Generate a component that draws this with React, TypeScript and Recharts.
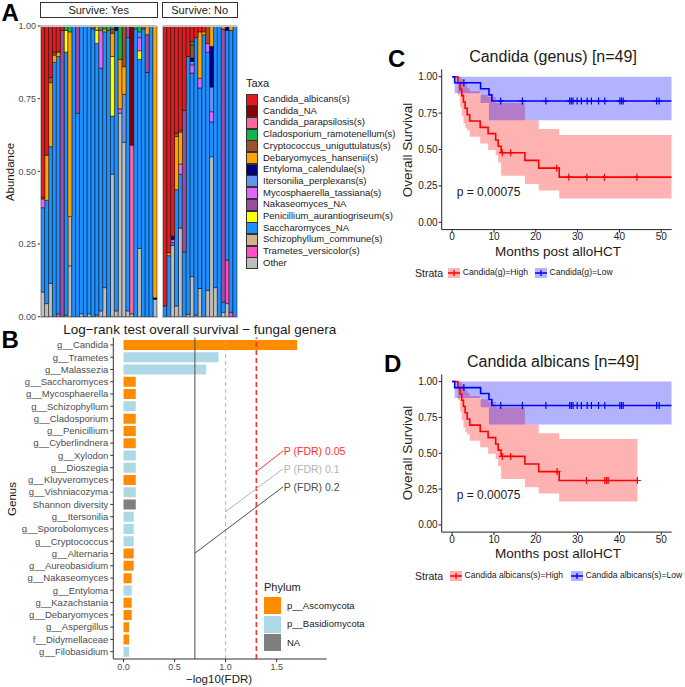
import React from "react";
import {
  BarChart,
  Bar,
  Cell,
  XAxis,
  YAxis,
  ComposedChart,
  Line,
  Area,
  Scatter,
  ReferenceLine,
  ReferenceDot,
} from "recharts";

const FONT = '"Liberation Sans", Arial, Helvetica, sans-serif';

// ---------- Panel A: fungal abundance per patient ----------
const taxa = [
  "Candida_albicans(s)",
  "Candida_NA",
  "Candida_parapsilosis(s)",
  "Cladosporium_ramotenellum(s)",
  "Cryptococcus_uniguttulatus(s)",
  "Debaryomyces_hansenii(s)",
  "Entyloma_calendulae(s)",
  "Itersonilia_perplexans(s)",
  "Mycosphaerella_tassiana(s)",
  "Nakaseomyces_NA",
  "Penicillium_aurantiogriseum(s)",
  "Saccharomyces_NA",
  "Schizophyllum_commune(s)",
  "Trametes_versicolor(s)",
  "Other",
];
const taxaColors = [
  "#e41a1c", "#8b0000", "#ff6699", "#14b24c", "#a0522d", "#ffa500", "#000080",
  "#6495ed", "#e066ff", "#984ea3", "#ffff00", "#1e90ff", "#d2b48c", "#ff4fc4", "#bebebe",
];
const facets = ["Survive: Yes", "Survive: No"];
const nSurvived = 30; // first 30 samples survived, last 19 did not

// one value per sample (30 survivors, then 19 non-survivors)
const candidaAlbicans = [
  0.59, 0.445, 0.177, 0.09, 0.09, 0.015, 0, 0, 0, 0,
  0, 0, 0, 0, 0, 0, 0, 0, 0, 0,
  0, 0, 0, 0, 0, 0, 0, 0, 0, 0,
  0.963, 0.78, 0.723, 0.368, 0.36, 0.29, 0.105, 0.054, 0.04, 0.02,
  0.02, 0, 0, 0, 0, 0, 0, 0, 0,
];
const candidaNA = [
  0, 0, 0, 0, 0, 0, 0, 0, 0, 0,
  0, 0, 0, 0, 0, 0, 0, 0, 0, 0,
  0, 0, 0, 0.41, 0, 0, 0, 0, 0, 0,
  0, 0, 0, 0, 0, 0, 0, 0, 0, 0,
  0, 0, 0, 0, 0, 0, 0, 0, 0,
];
const candidaParapsilosis = [
  0, 0, 0, 0, 0, 0, 0, 0, 0, 0,
  0, 0, 0, 0, 0, 0, 0, 0, 0, 0,
  0, 0, 0, 0.58, 0, 0, 0, 0, 0, 0,
  0, 0, 0, 0, 0, 0, 0, 0, 0, 0,
  0, 0, 0, 0, 0, 0, 0, 0, 0,
];
const cladosporium = [
  0, 0, 0, 0, 0, 0, 0.015, 0.02, 0, 0,
  0, 0, 0, 0, 0, 0.015, 0.01, 0.015, 0.01, 0,
  0.115, 0, 0, 0, 0.01, 0.02, 0, 0, 0, 0,
  0, 0, 0, 0, 0.005, 0, 0, 0.011, 0, 0,
  0, 0, 0, 0, 0, 0, 0, 0, 0,
];
const cryptococcus = [
  0.005, 0, 0.018, 0.01, 0, 0, 0, 0, 0, 0,
  0, 0, 0, 0.01, 0, 0, 0, 0, 0.015, 0,
  0, 0.14, 0, 0, 0, 0, 0.01, 0, 0, 0,
  0, 0, 0, 0.012, 0, 0, 0, 0.045, 0, 0,
  0, 0.06, 0, 0, 0, 0, 0, 0, 0,
];
const debaryomyces = [
  0, 0.155, 0.22, 0.025, 0.015, 0, 0, 0.635, 0, 0,
  0, 0, 0, 0, 0.015, 0, 0.01, 0, 0.08, 0,
  0.17, 0.095, 0, 0, 0, 0, 0, 0.03, 0, 0.935,
  0, 0.01, 0, 0.183, 0.11, 0, 0, 0, 0, 0.16,
  0.01, 0, 0.07, 0, 0, 0.01, 0, 0.015, 0,
];
const entyloma = [
  0, 0, 0, 0, 0, 0, 0, 0, 0, 0,
  0, 0, 0, 0, 0, 0, 0, 0, 0, 0.015,
  0, 0, 0, 0, 0, 0, 0, 0, 0, 0.005,
  0, 0, 0.012, 0, 0, 0, 0, 0.012, 0, 0,
  0, 0, 0.14, 0, 0, 0, 0.015, 0, 0,
];
const itersonilia = [
  0, 0, 0, 0, 0, 0, 0, 0, 0, 0,
  0, 0, 0, 0, 0, 0, 0, 0, 0, 0,
  0, 0.165, 0, 0, 0, 0.02, 0, 0, 0, 0,
  0, 0, 0, 0, 0, 0, 0, 0.012, 0, 0,
  0, 0, 0.085, 0, 0, 0, 0, 0, 0,
];
const mycosphaerella = [
  0.03, 0, 0, 0, 0, 0, 0, 0, 0, 0,
  0, 0, 0, 0, 0, 0.13, 0, 0, 0, 0,
  0.015, 0, 0, 0, 0, 0.045, 0, 0, 0, 0,
  0, 0, 0.01, 0, 0.035, 0, 0, 0.028, 0, 0.033,
  0, 0.03, 0.035, 0, 0, 0, 0, 0, 0,
];
const nakaseomyces = [
  0, 0, 0, 0, 0, 0.985, 0, 0, 0, 0.3,
  0, 0, 0, 0, 0, 0, 0, 0, 0, 0,
  0, 0, 0.04, 0, 0, 0, 0, 0.13, 0, 0,
  0, 0, 0, 0, 0, 0.488, 0, 0, 0, 0,
  0, 0, 0, 0, 0, 0.94, 0, 0, 0,
];
const penicillium = [
  0, 0, 0, 0, 0, 0, 0.075, 0, 0, 0,
  0, 0, 0, 0, 0.045, 0, 0, 0, 0.205, 0,
  0, 0, 0, 0, 0, 0.03, 0, 0, 0, 0,
  0, 0, 0, 0, 0, 0, 0, 0, 0, 0,
  0, 0, 0, 0, 0, 0, 0, 0, 0,
];
const saccharomyces = [
  0.29, 0.355, 0.47, 0.875, 0.885, 0, 0.905, 0, 1, 0.7,
  0.99, 1, 0.99, 0.99, 0.935, 0.835, 0.88, 0.985, 0.2, 0.965,
  0, 0, 0.94, 0, 0.99, 0.65, 0.99, 0.84, 1, 0,
  0.037, 0.21, 0.01, 0.4, 0.185, 0.222, 0.887, 0.7, 0.955, 0.69,
  0.97, 0.82, 0.12, 0.9, 1, 0.035, 0.79, 0.97, 1,
];
const schizophyllum = [
  0, 0, 0, 0, 0, 0, 0, 0.17, 0, 0,
  0, 0, 0, 0, 0, 0, 0, 0, 0, 0,
  0, 0, 0, 0, 0, 0, 0, 0, 0, 0,
  0, 0, 0, 0, 0, 0, 0, 0, 0, 0,
  0, 0, 0, 0, 0, 0, 0, 0, 0,
];
const trametes = [
  0, 0, 0, 0, 0.01, 0, 0, 0, 0, 0,
  0, 0, 0, 0, 0, 0, 0, 0, 0, 0,
  0, 0, 0, 0, 0, 0, 0, 0, 0, 0,
  0, 0, 0, 0, 0, 0, 0, 0, 0, 0,
  0, 0, 0, 0, 0, 0, 0.15, 0.015, 0,
];
const other = [
  0.085, 0.045, 0.115, 0, 0, 0, 0.005, 0.175, 0, 0,
  0.01, 0, 0.01, 0, 0.005, 0.02, 0.1, 0, 0.49, 0.02,
  0.7, 0.6, 0.02, 0.01, 0, 0.235, 0, 0, 0, 0.06,
  0, 0, 0.245, 0.037, 0.305, 0, 0.008, 0.138, 0.005, 0.097,
  0, 0.09, 0.55, 0.1, 0, 0.015, 0.045, 0, 0,
];

const abundance = [
  candidaAlbicans, candidaNA, candidaParapsilosis, cladosporium, cryptococcus,
  debaryomyces, entyloma, itersonilia, mycosphaerella, nakaseomyces,
  penicillium, saccharomyces, schizophyllum, trametes, other,
];

// ---------- Panel B: log-rank test per genus ----------
const genera = [
  "g__Candida", "g__Trametes", "g__Malassezia", "g__Saccharomyces", "g__Mycosphaerella",
  "g__Schizophyllum", "g__Cladosporium", "g__Penicillium", "g__Cyberlindnera", "g__Xylodon",
  "g__Dioszegia", "g__Kluyveromyces", "g__Vishniacozyma", "Shannon diversity", "g__Itersonilia",
  "g__Sporobolomyces", "g__Cryptococcus", "g__Alternaria", "g__Aureobasidium", "g__Nakaseomyces",
  "g__Entyloma", "g__Kazachstania", "g__Debaryomyces", "g__Aspergillus", "f__Didymellaceae",
  "g__Filobasidium",
];
const negLog10Fdr = [
  1.7, 0.93, 0.81, 0.12, 0.12, 0.12, 0.12, 0.12, 0.12, 0.12, 0.12, 0.12, 0.12, 0.12,
  0.1, 0.1, 0.1, 0.1, 0.1, 0.08, 0.08, 0.08, 0.08, 0.055, 0.055, 0.055,
];
const phyla = [
  "p__Ascomycota", "p__Basidiomycota", "p__Basidiomycota", "p__Ascomycota", "p__Ascomycota",
  "p__Basidiomycota", "p__Ascomycota", "p__Ascomycota", "p__Ascomycota", "p__Basidiomycota",
  "p__Basidiomycota", "p__Ascomycota", "p__Basidiomycota", "NA", "p__Basidiomycota",
  "p__Basidiomycota", "p__Basidiomycota", "p__Ascomycota", "p__Ascomycota", "p__Ascomycota",
  "p__Basidiomycota", "p__Ascomycota", "p__Ascomycota", "p__Ascomycota", "p__Ascomycota",
  "p__Basidiomycota",
];
const phylumNames = ["p__Ascomycota", "p__Basidiomycota", "NA"];
const phylumColors = ["#ff8c00", "#add8e6", "#7f7f7f"];
const fdrCutoffs = [0.05, 0.1, 0.2];
const fdrLabels = ["P (FDR) 0.05", "P (FDR) 0.1", "P (FDR) 0.2"];

// ---------- Panels C / D: Kaplan-Meier ----------
const highTime = [0, 1.35, 1.9, 2.3, 2.7, 3.1, 3.6, 4.2, 6.7, 8.6, 10.4, 11.0, 11.7, 17.4, 20.7, 25.6];
const highSurv = [1, 0.957, 0.913, 0.87, 0.826, 0.783, 0.739, 0.696, 0.652, 0.609, 0.565, 0.522, 0.478, 0.425, 0.372, 0.31];
const highLower = [1, 0.87, 0.79, 0.73, 0.68, 0.65, 0.63, 0.588, 0.542, 0.497, 0.46, 0.41, 0.32, 0.263, 0.219, 0.164];
const highUpper = [1, 1, 0.995, 0.98, 0.96, 0.94, 0.92, 0.9, 0.876, 0.86, 0.82, 0.82, 0.82, 0.7, 0.64, 0.6];
const lowTime = [0, 0.6, 6.8, 8.8, 9.5];
const lowSurv = [1, 0.958, 0.917, 0.875, 0.833];
const lowLower = [1, 0.886, 0.82, 0.7, 0.7];
const lowUpper = [1, 1, 1, 1, 1];
const lowEnd = 52.5;
const lowCensorTime = [2.8, 11.6, 16.8, 22.4, 28.1, 28.5, 28.9, 29.9, 30.9, 32.3, 33.3, 35.0, 36.5, 40.1, 40.5, 40.9, 48.9, 49.5];
const lowCensorSurv = [0.958, 0.833, 0.833, 0.833, 0.833, 0.833, 0.833, 0.833, 0.833, 0.833, 0.833, 0.833, 0.833, 0.833, 0.833, 0.833, 0.833, 0.833];
const genusHighEnd = 52.5;
const genusCensorTime = [12.0, 14.0, 25.0, 27.9, 32.2, 36.4, 44.2];
const genusCensorSurv = [0.478, 0.478, 0.372, 0.31, 0.31, 0.31, 0.31];
const albicansHighEnd = 44.3;
const albicansCensorTime = [12.0, 14.0, 25.1, 32.1, 36.5, 36.9, 37.3, 44.3];
const albicansCensorSurv = [0.478, 0.478, 0.372, 0.31, 0.31, 0.31, 0.31, 0.31];
const pValue = "p = 0.00075";

function stepRows(time: number[], surv: number[], lo: number[], hi: number[], end: number) {
  const rows = time.map((t, i) => ({ t, s: surv[i], band: [lo[i], hi[i]] }));
  const n = time.length - 1;
  rows.push({ t: end, s: surv[n], band: [lo[n], hi[n]] });
  return rows;
}
const censorRows = (time: number[], surv: number[]) => time.map((t, i) => ({ t, s: surv[i] }));

function Txt({ x, y, children, size = 11, color = "#1a1a1a", anchor = "middle", rotate = 0, weight = 400 }: any) {
  const tx = anchor === "middle" ? "-50%" : anchor === "end" ? "-100%" : "0";
  return (
    <div
      style={{
        position: "absolute",
        left: x,
        top: y,
        transform: `translate(${tx}, -50%) rotate(${rotate}deg)`,
        whiteSpace: "nowrap",
        fontSize: size,
        color,
        fontWeight: weight,
        lineHeight: 1.15,
      }}
    >
      {children}
    </div>
  );
}

const Plus = (props: any) => {
  const { cx, cy, fill } = props;
  if (cx == null || cy == null) return null;
  return <path d={`M${cx - 3.5},${cy}H${cx + 3.5}M${cx},${cy - 3.5}V${cy + 3.5}`} stroke={fill} strokeWidth={1.2} fill="none" />;
};

const GenusTick = (props: any) => {
  const { x, y, payload } = props;
  return (
    <text x={x} y={y} dy="0.35em" textAnchor="end" fontSize={9.5} fill="#4d4d4d">
      {payload.value}
    </text>
  );
};

function AbundancePanel() {
  const rows = abundance[0].map((_, i) => {
    const r: any = { id: i };
    abundance.forEach((arr, k) => (r["t" + k] = arr[i]));
    return r;
  });
  const groups = [rows.slice(0, nSurvived), rows.slice(nSurvived)];
  const order = taxa.map((_, k) => k).reverse(); // "Other" at the bottom of each stack
  const boxes = [
    { left: 0, width: 160, plotLeft: 40.7, plotW: 116 },
    { left: 160, width: 80, plotLeft: 162.7, plotW: 74 },
  ];
  return (
    <>
      {groups.map((data, g) => (
        <div key={g} style={{ position: "absolute", left: boxes[g].left, top: 20 }}>
          <BarChart
            width={boxes[g].width}
            height={305}
            data={data}
            stackOffset="expand"
            barCategoryGap="3%"
            margin={{ top: 6, right: 3.3, bottom: 8.3, left: 2.7 }}
          >
            <XAxis dataKey="id" hide />
            <YAxis
              hide={g === 1}
              width={38}
              ticks={[0, 0.25, 0.5, 0.75, 1]}
              tickFormatter={(v: number) => v.toFixed(2)}
              tick={{ fontSize: 9, fill: "#4d4d4d" }}
              axisLine={false}
              tickSize={3}
              tickMargin={1.7}
              tickLine={{ stroke: "#333" }}
            />
            {order.map((k) => (
              <Bar
                key={k}
                dataKey={"t" + k}
                stackId="a"
                fill={taxaColors[k]}
                stroke="#000"
                strokeWidth={0.5}
                isAnimationActive={false}
              />
            ))}
          </BarChart>
        </div>
      ))}
      {boxes.map((b, g) => (
        <React.Fragment key={g}>
          <div
            style={{
              position: "absolute",
              left: b.plotLeft - 0.5,
              top: 25.5,
              width: b.plotW,
              height: 290.7,
              border: "1px solid #c4c4c4",
              pointerEvents: "none",
            }}
          />
          <div
            style={{
              position: "absolute",
              left: b.plotLeft - 0.5,
              top: 1.5,
              width: b.plotW,
              height: 14.6,
              border: "1px solid #333",
              background: "#fff",
            }}
          />
          <Txt x={b.plotLeft + b.plotW / 2} y={9.5} size={11}>
            {facets[g]}
          </Txt>
        </React.Fragment>
      ))}
      <Txt x={10.7} y={171.7} size={11.5} rotate={-90}>
        Abundance
      </Txt>
      <Txt x={246} y={83.3} size={11} anchor="start">
        Taxa
      </Txt>
      {taxa.map((name, k) => (
        <React.Fragment key={name}>
          <div
            style={{
              position: "absolute",
              left: 246,
              top: 99 + k * 11.7 - 5.5,
              width: 10,
              height: 10,
              background: taxaColors[k],
              border: "0.5px solid #333",
            }}
          />
          <Txt x={263} y={99 + k * 11.7} size={9.5} anchor="start">
            {name}
          </Txt>
        </React.Fragment>
      ))}
    </>
  );
}

function LogRankPanel() {
  const data = genera.map((genus, i) => ({ genus, v: negLog10Fdr[i], phylum: phyla[i] }));
  const labelX = 1.56;
  // leader lines from each cutoff line (row position, counted from the top) to its label
  const leaders = [
    { y0: 10.42, y1: 8.8 },
    { y0: 13.55, y1: 10.2 },
    { y0: 16.8, y1: 11.62 },
  ];
  const lineColors = ["#ff3030", "#b3b3b3", "#4d4d4d"];
  return (
    <>
      <div style={{ position: "absolute", left: 0, top: 320 }}>
        <BarChart
          layout="vertical"
          width={365}
          height={367}
          data={data}
          barCategoryGap="10%"
          margin={{ top: 17.6, right: 38.3, bottom: 8, left: 8.3 }}
        >
          <XAxis
            type="number"
            domain={[-0.1, 1.99]}
            allowDataOverflow
            ticks={[0, 0.5, 1, 1.5]}
            tickFormatter={(v: number) => v.toFixed(1)}
            height={20}
            tick={{ fontSize: 9, fill: "#4d4d4d" }}
            tickSize={3}
            tickMargin={1.5}
            stroke="#333"
          />
          <YAxis
            type="category"
            dataKey="genus"
            width={105}
            interval={0}
            padding={{ top: 1.2, bottom: 1.2 }}
            tick={GenusTick}
            tickSize={3}
            tickMargin={2}
            stroke="#333"
          />
          <YAxis yAxisId="num" type="number" domain={[0, 26]} hide padding={{ top: 1.2, bottom: 1.2 }} />
          <Bar dataKey="v" isAnimationActive={false}>
            {data.map((d) => (
              <Cell key={d.genus} fill={phylumColors[phylumNames.indexOf(d.phylum)]} />
            ))}
          </Bar>
          <ReferenceLine x={-Math.log10(fdrCutoffs[2])} stroke="#4d4d4d" strokeWidth={1} />
          <ReferenceLine x={-Math.log10(fdrCutoffs[1])} stroke="#b3b3b3" strokeWidth={1} strokeDasharray="4 3" />
          <ReferenceLine x={-Math.log10(fdrCutoffs[0])} stroke="#ff3030" strokeWidth={1.6} strokeDasharray="5 3" />
          {fdrCutoffs.map((c, i) => (
            <ReferenceLine
              key={"seg" + c}
              yAxisId="num"
              segment={[
                { x: -Math.log10(c), y: leaders[i].y0 },
                { x: labelX, y: leaders[i].y1 },
              ]}
              stroke={lineColors[i]}
              strokeWidth={1}
            />
          ))}
          {fdrCutoffs.map((c, i) => (
            <ReferenceDot
              key={"lab" + c}
              yAxisId="num"
              x={labelX}
              y={leaders[i].y1}
              r={0.5}
              fill={lineColors[i]}
              stroke="none"
              label={{ value: fdrLabels[i], position: "right", offset: 0.5, fill: lineColors[i], fontSize: 10.5 }}
            />
          ))}
        </BarChart>
      </div>
      <Txt x={199.8} y={330} size={13.5}>
        Log−rank test overall survival − fungal genera
      </Txt>
      <Txt x={12.7} y={499} size={11.5} rotate={-90}>
        Genus
      </Txt>
      <Txt x={219} y={680} size={11.5}>
        −log10(FDR)
      </Txt>
      <Txt x={264} y={586.7} size={11} anchor="start">
        Phylum
      </Txt>
      {phylumNames.map((p, k) => (
        <React.Fragment key={p}>
          <div
            style={{
              position: "absolute",
              left: 264,
              top: 605.5 + k * 18.5 - 8.5,
              width: 17,
              height: 17,
              background: phylumColors[k],
            }}
          />
          <Txt x={287} y={605.5 + k * 18.5} size={9.5} anchor="start">
            {p}
          </Txt>
        </React.Fragment>
      ))}
    </>
  );
}

function LegendKey({ color, band }: any) {
  return (
    <svg width={12} height={10} style={{ display: "block" }}>
      <rect x={0} y={0} width={12} height={10} fill={band} />
      <path d="M0,5H12M6,2V8" stroke={color} strokeWidth={1.3} />
    </svg>
  );
}

function KMPanel({ top, letter, letterX, title, highEnd, censorTime, censorSurv, highLabel, lowLabel, keyX, plotH }: any) {
  const high = stepRows(highTime, highSurv, highLower, highUpper, highEnd);
  const low = stepRows(lowTime, lowSurv, lowLower, lowUpper, lowEnd);
  const highCens = censorRows(censorTime, censorSurv);
  const lowCens = censorRows(lowCensorTime, lowCensorSurv);
  const o = top - 40;
  const plotTop = top + 29.4;
  return (
    <>
      <div style={{ position: "absolute", left: 380, top }}>
        <ComposedChart
          width={300}
          height={250}
          margin={{ top: 29.4, right: 8.3, bottom: 250 - 29.4 - plotH - 18, left: 25.7 }}
        >
          <XAxis
            type="number"
            dataKey="t"
            domain={[-2.5, 52.5]}
            allowDataOverflow
            ticks={[0, 10, 20, 30, 40, 50]}
            height={18}
            tick={{ fontSize: 10, fill: "#222" }}
            tickSize={3}
            tickMargin={0.5}
            stroke="#222"
          />
          <YAxis
            type="number"
            domain={[-0.05, 1.05]}
            allowDataOverflow
            ticks={[0, 0.25, 0.5, 0.75, 1]}
            tickFormatter={(v: number) => v.toFixed(2)}
            width={36}
            tick={{ fontSize: 10, fill: "#222" }}
            tickSize={3}
            tickMargin={1}
            stroke="#222"
          />
          <Area data={high} dataKey="band" type="stepAfter" fill="#ff0000" fillOpacity={0.3} stroke="none" isAnimationActive={false} />
          <Area data={low} dataKey="band" type="stepAfter" fill="#0000ff" fillOpacity={0.3} stroke="none" isAnimationActive={false} />
          <Line data={high} dataKey="s" type="stepAfter" stroke="#ff0000" strokeWidth={1.6} dot={false} isAnimationActive={false} />
          <Line data={low} dataKey="s" type="stepAfter" stroke="#0000ff" strokeWidth={1.6} dot={false} isAnimationActive={false} />
          <Scatter data={highCens} dataKey="s" fill="#ff0000" shape={Plus} isAnimationActive={false} />
          <Scatter data={lowCens} dataKey="s" fill="#0000ff" shape={Plus} isAnimationActive={false} />
        </ComposedChart>
      </div>
      <Txt x={letterX} y={59 + o} size={24} weight={700} anchor="start" color="#000">
        {letter}
      </Txt>
      <Txt x={553} y={57.3 + o} size={16}>
        {title}
      </Txt>
      <Txt x={408} y={plotTop + plotH / 2} size={13.5} rotate={-90}>
        Overall Survival
      </Txt>
      <Txt x={558} y={plotTop + plotH + 22} size={13.5}>
        Months post alloHCT
      </Txt>
      <Txt x={456.7} y={plotTop + plotH - 36.3} size={12} anchor="start">
        {pValue}
      </Txt>
      <Txt x={415} y={plotTop + plotH + 43.5} size={10.5} anchor="start">
        Strata
      </Txt>
      <div style={{ position: "absolute", left: keyX[0], top: plotTop + plotH + 38.5 }}>
        <LegendKey color="#ff0000" band="#ffb3b3" />
      </div>
      <Txt x={keyX[0] + 14.5} y={plotTop + plotH + 43.5} size={8.6} anchor="start">
        {highLabel}
      </Txt>
      <div style={{ position: "absolute", left: keyX[1], top: plotTop + plotH + 38.5 }}>
        <LegendKey color="#0000ff" band="#b3b3ff" />
      </div>
      <Txt x={keyX[1] + 14.5} y={plotTop + plotH + 43.5} size={8.6} anchor="start">
        {lowLabel}
      </Txt>
    </>
  );
}

export default function App() {
  return (
    <div
      style={{
        position: "absolute",
        left: 0,
        top: 0,
        width: 685,
        height: 687,
        background: "#fff",
        fontFamily: FONT,
        overflow: "hidden",
      }}
    >
      <Txt x={1.5} y={13} size={24} weight={700} anchor="start" color="#000">
        A
      </Txt>
      <Txt x={1.5} y={339.5} size={24} weight={700} anchor="start" color="#000">
        B
      </Txt>
      <AbundancePanel />
      <LogRankPanel />
      <KMPanel
        top={40}
        letter="C"
        letterX={388}
        title="Candida (genus) [n=49]"
        highEnd={genusHighEnd}
        censorTime={genusCensorTime}
        censorSurv={genusCensorSurv}
        highLabel="Candida(g)=High"
        lowLabel="Candida(g)=Low"
        keyX={[448.3, 535]}
        plotH={160.2}
      />
      <KMPanel
        top={345}
        letter="D"
        letterX={384}
        title="Candida albicans [n=49]"
        highEnd={albicansHighEnd}
        censorTime={albicansCensorTime}
        censorSurv={albicansCensorSurv}
        highLabel="Candida albicans(s)=High"
        lowLabel="Candida albicans(s)=Low"
        keyX={[450, 571]}
        plotH={157.7}
      />
    </div>
  );
}
